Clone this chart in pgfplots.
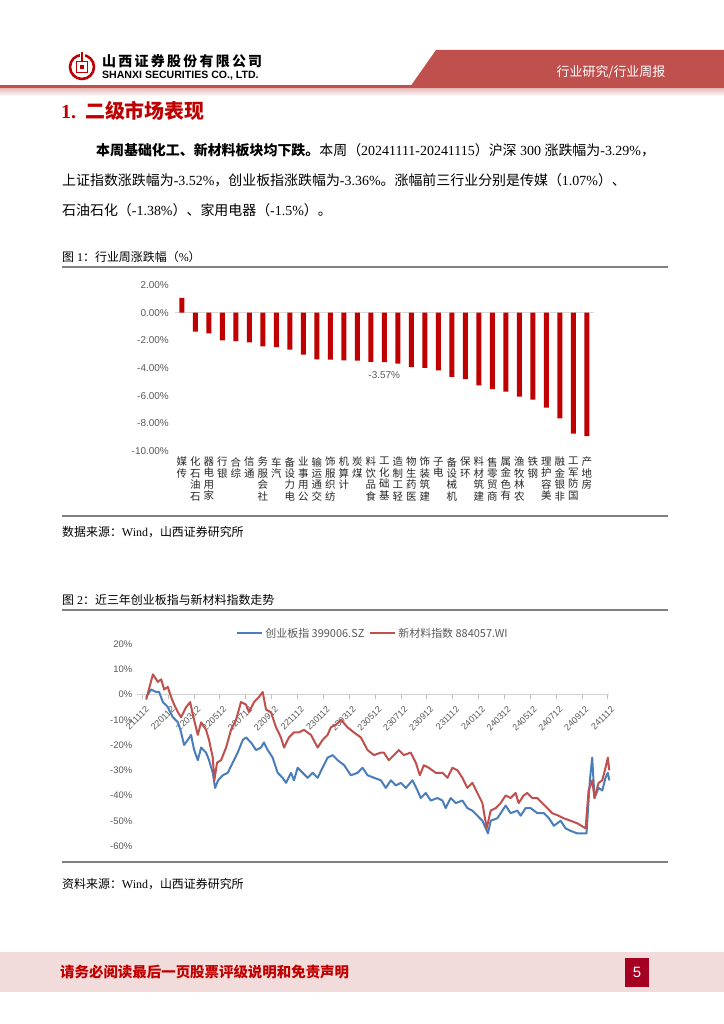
\documentclass[border=0pt]{standalone}
\usepackage{fontspec}
\setmainfont{Liberation Serif}
\setsansfont{Liberation Sans}
\newfontfamily\cjk{Noto Sans CJK SC}
\newfontfamily\arial{Liberation Sans}
\usepackage{pgfplots}
\pgfplotsset{compat=1.18}
\definecolor{hdrred}{HTML}{C0504D}
\definecolor{barred}{HTML}{C00000}
\definecolor{lblue}{HTML}{4A7EBB}
\definecolor{lred}{HTML}{C0504D}
\definecolor{footpink}{HTML}{F2DCDB}
\definecolor{pagebox}{HTML}{A50021}
\definecolor{lbl}{HTML}{595959}
\definecolor{rule}{HTML}{808080}
\newcommand{\C}[1]{{\cjk #1}}
\begin{document}
\begin{tikzpicture}
\path[use as bounding box] (0,0) rectangle (724bp,1024bp);
\fill[white] (0,0) rectangle (724bp,1024bp);
% ---------- header ----------
\fill[hdrred] (436bp,974bp) -- (724bp,974bp) -- (724bp,937bp) -- (410bp,937bp) -- cycle;
\fill[hdrred] (0,935bp) rectangle (724bp,938.5bp);
\shade[top color=hdrred!35, bottom color=white] (0,928bp) rectangle (724bp,935bp);
\node[white, font=\cjk\fontsize{13}{13}\selectfont] at (611bp,952bp) {行业研究/行业周报};
\draw[barred, line width=2.6bp] (82bp,957bp) circle (12bp);
\fill[white] (79.5bp,966bp) rectangle (84.5bp,971bp);
\draw[barred, line width=1.8bp] (76.5bp,951.5bp) rectangle (87.5bp,962.5bp);
\fill[barred] (80bp,955bp) rectangle (84bp,959bp);
\draw[barred, line width=1.8bp] (82bp,962.5bp) -- (82bp,972bp);
\node[anchor=west, inner sep=0pt, font=\cjk\bfseries\fontsize{14}{14}\selectfont] at (102bp,962.5bp)
  {\makebox[160bp][s]{山\hfill 西\hfill 证\hfill 券\hfill 股\hfill 份\hfill 有\hfill 限\hfill 公\hfill 司}};
\node[anchor=west, inner sep=0pt, font=\arial\bfseries\fontsize{10.6}{11}\selectfont] at (102bp,948.5bp)
  {SHANXI SECURITIES CO., LTD.};
% ---------- title ----------
\node[anchor=west, inner sep=0pt, text=barred, font=\bfseries\fontsize{20}{20}\selectfont] at (61bp,913bp)
  {1.\hspace{9bp}\C{二级市场表现}};
% ---------- paragraph ----------
\begin{scope}[every node/.style={anchor=base west, inner sep=0pt, font=\fontsize{14}{14}\selectfont}]
\node at (96bp,868bp) {{\cjk\bfseries 本周基础化工、新材料板块均下跌。}\C{本周（}20241111-20241115\C{）沪深} 300 \C{涨跌幅为}-3.29\%\C{，}};
\node at (62bp,838bp) {\C{上证指数涨跌幅为}-3.52\%\C{，创业板指涨跌幅为}-3.36\%\C{。涨幅前三行业分别是传媒（}1.07\%\C{）、}};
\node at (62bp,808bp) {\C{石油石化（}-1.38\%\C{）、家用电器（}-1.5\%\C{）。}};
\end{scope}
% ---------- figure frames ----------
\begin{scope}[every node/.style={anchor=west, inner sep=0pt, font=\fontsize{12}{12}\selectfont}]
\node at (62bp,767bp) {\C{图} 1\C{：行业周涨跌幅（}\%\C{）}};
\node at (62bp,492bp) {\C{数据来源：}Wind\C{，山西证券研究所}};
\node at (62bp,424bp) {\C{图} 2\C{：近三年创业板指与新材料指数走势}};
\node at (62bp,140bp) {\C{资料来源：}Wind\C{，山西证券研究所}};
\end{scope}
\draw[rule, line width=1.3bp] (62bp,757bp) -- (668bp,757bp);
\draw[rule, line width=1.3bp] (62bp,508bp) -- (668bp,508bp);
\draw[rule, line width=1.3bp] (62bp,414bp) -- (668bp,414bp);
\draw[rule, line width=1.3bp] (62bp,162bp) -- (668bp,162bp);
% ---------- footer ----------
\fill[footpink] (0,32bp) rectangle (724bp,72bp);
\node[anchor=west, inner sep=0pt, text=barred, font=\cjk\bfseries\fontsize{14.5}{14.5}\selectfont] at (60bp,52bp)
  {请务必阅读最后一页股票评级说明和免责声明};
\fill[pagebox] (625bp,37bp) rectangle (649bp,66bp);
\node[white, font=\arial\fontsize{15}{15}\selectfont] at (637bp,51.5bp) {5};
% ---------- bar chart ----------
\begin{axis}[at={(175bp,573bp)}, anchor=south west, scale only axis,
  width=418.5bp, height=166bp,
  xmin=-0.5, xmax=30.5, ymin=-10, ymax=2,
  ybar, bar width=5bp,
  axis line style={draw=none}, major tick length=0pt,
  ytick={-10,-8,-6,-4,-2,0,2},
  yticklabels={-10.00\%,-8.00\%,-6.00\%,-4.00\%,-2.00\%,0.00\%,2.00\%},
  yticklabel style={font=\arial\fontsize{10}{10}\selectfont, text=lbl, inner sep=1bp, xshift=-5bp},
  extra y ticks={0}, extra y tick labels={},
  extra y tick style={grid=major, major grid style={draw=black!15, line width=0.8bp}},
  xtick={0,1,...,30},
  xticklabels={{媒\\传},{化\\石\\油\\石},{器\\电\\用\\家},{行\\银},{合\\综},{信\\通},{务\\服\\会\\社},{车\\汽},{备\\设\\力\\电},{业\\事\\用\\公},{输\\运\\通\\交},{饰\\服\\织\\纺},{机\\算\\计},{炭\\煤},{料\\饮\\品\\食},{工\\化\\础\\基},{造\\制\\工\\轻},{物\\生\\药\\医},{饰\\装\\筑\\建},{子\\电},{备\\设\\械\\机},{保\\环},{料\\材\\筑\\建},{售\\零\\贸\\商},{属\\金\\色\\有},{渔\\牧\\林\\农},{铁\\钢},{理\\护\\容\\美},{融\\金\\银\\非},{工\\军\\防\\国},{产\\地\\房}},
  xticklabel style={align=center, anchor=north, inner sep=0pt, yshift=-6bp, text=black!85, font=\cjk\fontsize{10.5}{11.5}\selectfont},
  clip=false]
\addplot[fill=barred, draw=none] coordinates {
(0,1.07)(1,-1.38)(2,-1.50)(3,-2.00)(4,-2.05)(5,-2.15)(6,-2.44)(7,-2.49)(8,-2.68)(9,-3.04)
(10,-3.38)(11,-3.40)(12,-3.45)(13,-3.47)(14,-3.56)(15,-3.57)(16,-3.69)(17,-3.93)(18,-4.00)(19,-4.17)
(20,-4.65)(21,-4.80)(22,-5.26)(23,-5.52)(24,-5.71)(25,-6.07)(26,-6.29)(27,-6.87)(28,-7.64)(29,-8.75)(30,-8.92)};
\node[font=\arial\fontsize{10}{10}\selectfont, text=lbl] at (axis cs:15,-4.5) {-3.57\%};
\end{axis}
% ---------- line chart ----------
\begin{axis}[at={(137bp,178bp)}, anchor=south west, scale only axis,
  width=472bp, height=202bp,
  xmin=-0.4, xmax=36.1, ymin=-60, ymax=20,
  axis x line=middle, axis y line=left,
  x axis line style={-, draw=black!18, line width=0.8bp},
  y axis line style={draw=none},
  hide obscured x ticks=false, hide obscured y ticks=false,
  ytick={-60,-50,...,20},
  yticklabels={-60\%,-50\%,-40\%,-30\%,-20\%,-10\%,0\%,10\%,20\%},
  ytick style={draw=none},
  yticklabel style={font=\arial\fontsize{9.5}{9.5}\selectfont, text=lbl, inner sep=0.5bp},
  xtick={0,2,...,36},
  xticklabels={211112,220112,220312,220512,220712,220912,221112,230112,230312,230512,230712,230912,231112,240112,240312,240512,240712,240912,241112},
  xtick style={draw=black!25, line width=0.6bp},
  tick align=outside, major tick length=4bp,
  xticklabel style={rotate=45, anchor=north east, inner sep=1bp, xshift=-2bp, yshift=-6bp, font=\arial\fontsize{9}{9}\selectfont, text=lbl},
  legend style={at={(0.5,1)}, anchor=south, yshift=1bp, draw=none, fill=none,
    legend columns=2, font=\cjk\fontsize{11}{11}\selectfont, text=lbl,
    /tikz/every even column/.append style={column sep=3bp}},
  legend image code/.code={\draw[#1] (0bp,0bp) -- (25bp,0bp);},
  clip=false]
\addplot[lblue, line width=2bp, line join=round] coordinates {
(0.31,-1)(0.69,2)(1.08,1)(1.31,1)(1.60,-3)(1.98,-5)(2.37,-9)(2.76,-11)(3.01,-15)(3.24,-20)
(3.53,-18)(3.78,-16)(4.02,-22)(4.30,-26)(4.56,-21)(4.94,-23)(5.17,-26)(5.46,-31)(5.64,-37)(5.87,-34)
(6.23,-32)(6.62,-31)(7.00,-27)(7.39,-23)(7.78,-18)(8.03,-17)(8.42,-19)(8.80,-22)(9.19,-21)(9.42,-19)
(9.71,-22)(10.09,-25)(10.48,-31)(10.86,-33)(11.12,-35)(11.51,-31)(11.74,-34)(12.02,-29)(12.41,-31)(12.80,-33)
(13.18,-31)(13.57,-33)(13.95,-29)(14.34,-25)(14.73,-24)(15.11,-26)(15.62,-28)(16.14,-32)(16.66,-31)(17.04,-29)
(17.43,-32)(17.94,-33)(18.46,-34)(18.84,-37)(19.23,-34)(19.61,-36)(20.00,-35)(20.39,-37)(20.90,-34)(21.29,-38)
(21.54,-41)(21.93,-39)(22.32,-42)(22.83,-41)(23.22,-42)(23.47,-45)(23.86,-41)(24.25,-43)(24.76,-42)(25.15,-45)
(25.54,-46)(25.92,-48)(26.31,-50)(26.74,-55)(26.95,-50)(27.47,-49)(27.85,-46)(28.11,-44)(28.49,-47)(29.01,-46)
(29.27,-48)(29.65,-45)(30.04,-45)(30.56,-47)(31.07,-47)(31.45,-49)(31.84,-52)(32.36,-50)(32.74,-53)(33.13,-54)
(33.64,-55)(34.36,-55)(34.62,-34)(34.80,-25)(34.98,-41)(35.29,-37)(35.58,-38)(35.83,-33)(36.01,-31)(36.12,-34)};
\addlegendentry{创业板指\ 399006.SZ}
\addplot[lred, line width=2bp, line join=round] coordinates {
(0.31,-2)(0.83,8)(1.21,5)(1.47,6)(1.70,2)(1.98,3)(2.24,-1)(2.47,-4)(2.76,-7)(3.01,-9)
(3.40,-5)(3.71,-3)(3.92,-8)(4.30,-16)(4.56,-11)(4.94,-14)(5.17,-18)(5.46,-25)(5.58,-34)(5.79,-27)
(6.10,-26)(6.49,-21)(6.87,-14)(7.26,-10)(7.64,-3)(8.03,-4)(8.26,-7)(8.65,-3)(9.03,-1)(9.32,1)
(9.58,-6)(9.96,-7)(10.35,-13)(10.73,-17)(10.97,-21)(11.35,-17)(11.74,-15)(12.12,-15)(12.51,-14)(13.05,-16)
(13.57,-21)(13.95,-18)(14.34,-16)(14.59,-13)(14.98,-12)(15.37,-10)(15.88,-13)(16.37,-15)(16.91,-17)(17.43,-22)
(17.92,-24)(18.46,-23)(18.69,-23)(19.07,-26)(19.46,-24)(19.85,-22)(20.23,-24)(20.77,-23)(21.16,-27)(21.47,-32)
(21.78,-28)(22.16,-29)(22.70,-31)(23.22,-31)(23.61,-33)(23.99,-29)(24.38,-30)(24.76,-33)(25.15,-37)(25.54,-35)
(25.92,-39)(26.31,-43)(26.64,-53)(26.95,-46)(27.34,-45)(27.72,-43)(28.11,-40)(28.49,-41)(28.88,-39)(29.11,-43)
(29.50,-40)(29.78,-39)(30.17,-41)(30.56,-41)(30.94,-43)(31.33,-45)(31.71,-47)(32.20,-48)(32.59,-49)(33.13,-50)
(33.64,-51)(34.29,-53)(34.52,-38)(34.80,-34)(34.98,-41)(35.29,-35)(35.58,-34)(35.83,-29)(36.01,-25)(36.12,-30)};
\addlegendentry{新材料指数\ 884057.WI}
\end{axis}
\end{tikzpicture}
\end{document}
